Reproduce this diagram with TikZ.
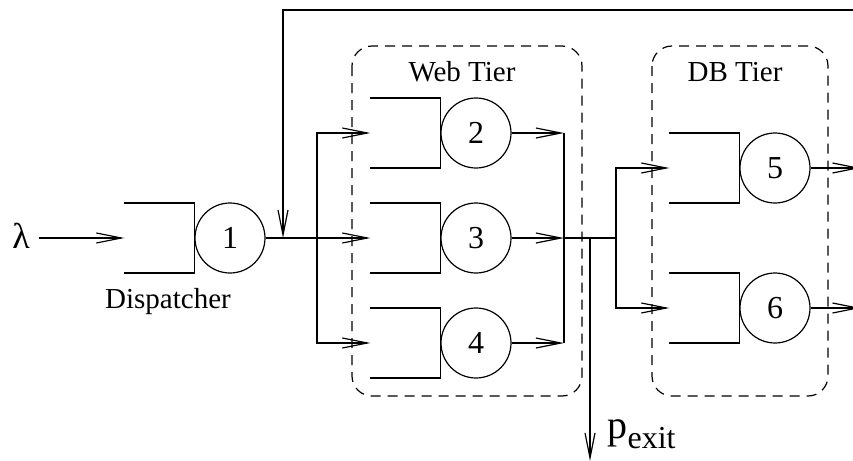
\documentclass[tikz,border=0pt]{standalone}
\usepackage{fontspec}
\setmainfont{Liberation Serif}
\usetikzlibrary{arrows.meta}
\tikzset{
	server/.style={draw,circle,minimum size=35pt,inner sep=0pt,font=\fontsize{16}{16}\selectfont},
	flow/.style={-{Straight Barb[length=12.5pt,width=5pt]}},
	tier/.style={dash pattern=on 5pt off 3.5pt,rounded corners=10pt},
	lbl/.style={font=\fontsize{14.5}{14.5}\selectfont}
}
% a queue: the server circle and its open buffer
\newcommand{\station}[3]{\node[server] (#1) at (#2) {#3};
	\draw ([shift={(-70,-35)}]#1.west) -| (#1.west) |- ([shift={(-70,35)}]#1.west);
	\coordinate (#1in) at ([xshift=-35pt]#1.west)}

\begin{document}
\begin{tikzpicture}[x=0.5pt,y=-0.5pt,line width=0.6pt]
\useasboundingbox (0,0) rectangle (853,461);
\draw[tier] (352,46) rectangle (582,396);
\draw[tier] (652,46) rectangle (828,396);
\node[lbl] (web) at (462,72) {Web Tier};
\node[lbl] (db) at (735,72) {DB Tier};
%
	\station{s1}{230,238}{1};
	\station{s2}{476,133}{2};
	\station{s3}{476,238}{3};
	\station{s4}{476,343}{4};
	\station{s5}{775,168}{5};
	\station{s6}{775,308}{6};
\node[lbl] (disp) at (168,302) {Dispatcher};
\node[font=\fontsize{18}{18}\selectfont,inner sep=1pt] (lam) at (21,236) {λ};
\draw[flow] ([xshift=3.5pt]lam.east |- s1) -- (s1in);
%
\coordinate (fb) at (283,238);
\coordinate (fbin) at (856,10);
\coordinate (ws) at (317,238);
\coordinate (wm) at (564,238);
\coordinate (ex) at (590,238);
\coordinate (exout) at (590,461);
\coordinate (ds) at (616,238);
\draw (s1.east) -- (ws);
\draw[flow] (fbin) -- (fbin -| fb) -- (fb);
\draw[flow] (ws) |- (s2in);
\draw[flow] (ws) -- (s3in);
\draw[flow] (ws) |- (s4in);
%
\draw[flow] (s2.east) -- (s2.east -| wm);
\draw[flow] (s3.east) -- (wm);
\draw[flow] (s4.east) -- (s4.east -| wm);
\draw (wm |- s2) -- (wm |- s4);
\draw (wm) -- (ds);
\draw[flow] (ex) -- (exout);
\node[anchor=base west,inner sep=0pt] (pexit) at (607,438)
	{\fontsize{20}{20}\selectfont p\raisebox{-5pt}{\fontsize{16}{16}\selectfont exit}};
%
\draw[flow] (ds) |- (s5in);
\draw[flow] (ds) |- (s6in);
\draw[flow] (s5.east) -- ([xshift=25pt]s5.east);
\draw[flow] (s6.east) -- ([xshift=25pt]s6.east);
\end{tikzpicture}
\end{document}
